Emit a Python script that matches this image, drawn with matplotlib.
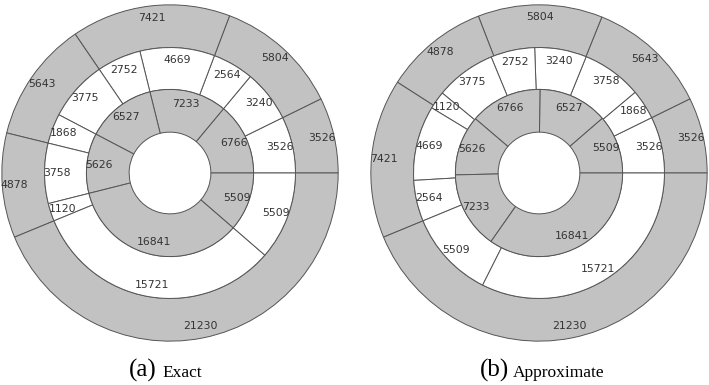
import numpy as np
import matplotlib
matplotlib.use("Agg")
import matplotlib.pyplot as plt

# ---- data (counter-clockwise from 3 o'clock) ----
exact_outer = [3526, 5804, 7421, 5643, 4878, 21230]
exact_middle = [3526, 3240, 2564, 4669, 2752, 3775, 1868, 3758, 1120, 15721, 5509]
exact_inner = [6766, 7233, 6527, 5626, 16841, 5509]

approx_outer = [3526, 5643, 5804, 4878, 7421, 21230]
approx_middle = [3526, 1868, 3758, 3240, 2752, 3775, 1120, 4669, 2564, 5509, 15721]
approx_inner = [5509, 6527, 6766, 5626, 7233, 16841]

captions = [("(a)", "Exact"), ("(b)", "Approximate")]

W, H = 709, 385
fig = plt.figure(figsize=(W / 100, H / 100), dpi=100)

GRAY = "#c2c2c2"
EDGE = "#555555"
TXT = "#333333"

radii = [1.0, 0.746, 0.497, 0.243]


def draw(ax, rings):
    fills = [GRAY, "white", GRAY]
    for i, vals in enumerate(rings):
        r_out, r_in = radii[i], radii[i + 1]
        width = r_out - r_in
        ax.pie(vals, radius=r_out, startangle=0, counterclock=True,
               colors=[fills[i]] * len(vals),
               wedgeprops=dict(width=width, edgecolor=EDGE, linewidth=0.7))
        total = float(np.sum(vals))
        cum = np.cumsum([0] + list(vals))
        rl = (r_out + r_in) / 2 + 0.21 * width
        for k, v in enumerate(vals):
            a = np.deg2rad(360 * (cum[k] + cum[k + 1]) / 2 / total)
            ax.text(rl * np.cos(a), rl * np.sin(a), str(v), ha="center",
                    va="center", fontsize=7.8, color=TXT,
                    family="DejaVu Sans")
    ax.set_xlim(-1.005, 1.005)
    ax.set_ylim(-1.005, 1.005)
    ax.set_aspect("equal")
    ax.axis("off")


R = 169
centers = [(170, 173), (539, 173)]
datasets = [(exact_outer, exact_middle, exact_inner),
            (approx_outer, approx_middle, approx_inner)]
for (cx, cy), rings in zip(centers, datasets):
    ax = fig.add_axes([(cx - R) / W, (H - cy - R) / H, 2 * R / W, 2 * R / H])
    draw(ax, rings)

cap_x = [(157, 162), (509, 513)]
for (xa, xb), (lab, name) in zip(cap_x, captions):
    fig.text(xa / W, 1 - 377 / H, lab, ha="right", va="baseline",
             fontsize=18, family="Liberation Serif")
    fig.text(xb / W, 1 - 377 / H, name, ha="left", va="baseline",
             fontsize=12.5, family="Liberation Serif")

fig.savefig("out.png", dpi=100)
